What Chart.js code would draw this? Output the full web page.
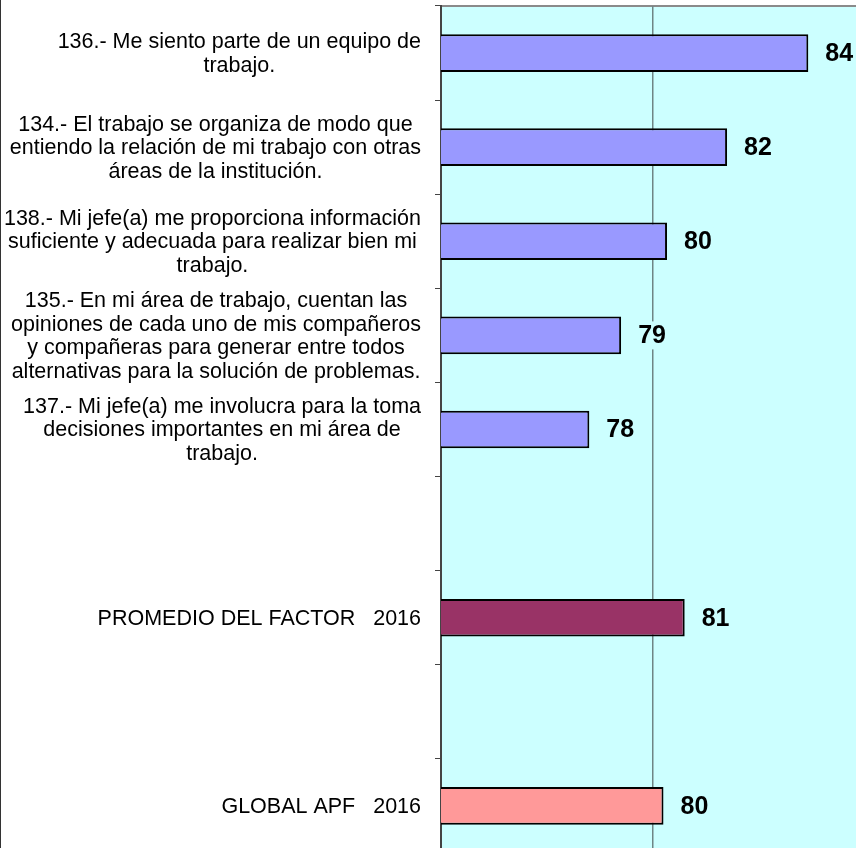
<!DOCTYPE html>
<html>
<head>
<meta charset="utf-8">
<script src="https://cdn.jsdelivr.net/npm/chart.js@4/dist/chart.umd.min.js"></script>
<style>
    body { margin: 0; overflow: hidden; background: #fff; }
</style>
</head>
<body>
<canvas id="grafica" width="856" height="853"></canvas>
<script>
// etiquetas de cada reactivo (ya partidas en lineas)
const etiquetas = [
    ['136.- Me siento parte de un equipo de', 'trabajo.'],
    ['134.- El trabajo se organiza de modo que', 'entiendo la relación de mi trabajo con otras', 'áreas de la institución.'],
    ['138.- Mi jefe(a) me proporciona información', 'suficiente y adecuada para realizar bien mi', 'trabajo.'],
    ['135.- En mi área de trabajo, cuentan las', 'opiniones de cada uno de mis compañeros', 'y compañeras para generar entre todos', 'alternativas para la solución de problemas.'],
    ['137.- Mi jefe(a) me involucra para la toma', 'decisiones importantes en mi área de', 'trabajo.'],
    [],
    ['PROMEDIO DEL FACTOR   2016'],
    [],
    ['GLOBAL APF   2016']
];
const valores = [84.4, 82.1, 80.4, 79.1, 78.2, null, 80.9, null, 80.3];
const colores = ['#9999FF', '#9999FF', '#9999FF', '#9999FF', '#9999FF', null, '#993366', null, '#FF9999'];
const ejeMin = 74;
const ejeMax = 85.75;
const guias = [80];

const fondoCyan = '#CCFFFF';

const dibujos = {
    id: 'dibujos',
    beforeDraw(chart) {
        const ctx = chart.ctx;
        const a = chart.chartArea;
        ctx.save();
        ctx.fillStyle = '#fff';
        ctx.fillRect(0, 0, chart.width, chart.height);
        ctx.fillStyle = fondoCyan;
        ctx.fillRect(a.left, a.top, a.right - a.left, a.bottom - a.top);
        // borde superior del area
        ctx.fillStyle = '#8a8a8a';
        ctx.fillRect(a.left, a.top - 1, a.right - a.left, 2);
        // borde izquierdo de la imagen
        ctx.fillStyle = '#333';
        ctx.fillRect(0, 0, 1, chart.height);
        ctx.restore();
    },
    afterDatasetsDraw(chart) {
        const ctx = chart.ctx;
        const meta = chart.getDatasetMeta(0);
        ctx.save();
        ctx.font = 'bold 25px "Liberation Sans", Arial, sans-serif';
        ctx.textAlign = 'left';
        ctx.textBaseline = 'middle';
        meta.data.forEach((bar, i) => {
            if (valores[i] == null) return;
            const txt = String(Math.round(valores[i]));
            const x = bar.x + 17;
            const w = ctx.measureText(txt).width;
            ctx.fillStyle = fondoCyan;
            ctx.fillRect(x - 2, bar.y - 14, w + 4, 28);
            ctx.fillStyle = '#000';
            ctx.fillText(txt, x, bar.y + 1);
        });
        ctx.restore();
    },
    afterDraw(chart) {
        const ctx = chart.ctx;
        const y = chart.scales.y;
        const lh = 23.5;
        const derecha = 421;
        ctx.save();
        ctx.font = '21.5px "Liberation Sans", Arial, sans-serif';
        ctx.textAlign = 'center';
        ctx.textBaseline = 'middle';
        ctx.fillStyle = '#000';
        etiquetas.forEach((lineas, i) => {
            if (!lineas.length) return;
            const yc = y.getPixelForValue(i);
            let ancho = 0;
            lineas.forEach(l => { ancho = Math.max(ancho, ctx.measureText(l).width); });
            const cx = derecha - ancho / 2;
            lineas.forEach((l, k) => {
                const ly = yc + 1 + (k - (lineas.length - 1) / 2) * lh;
                ctx.fillText(l, cx, ly);
            });
        });
        ctx.restore();
    }
};

new Chart(document.getElementById('grafica'), {
    type: 'bar',
    data: {
        labels: etiquetas.map(l => l.join(' ')),
        datasets: [{
            data: valores,
            backgroundColor: colores,
            borderColor: '#000',
            borderWidth: 2,
            borderSkipped: false,
            barPercentage: 0.4,
            categoryPercentage: 1
        }]
    },
    options: {
        indexAxis: 'y',
        responsive: false,
        animation: false,
        layout: { padding: { top: 6, left: 0, right: 0, bottom: 0 } },
        plugins: {
            legend: { display: false },
            tooltip: { enabled: false }
        },
        scales: {
            x: {
                min: ejeMin,
                max: ejeMax,
                afterBuildTicks: s => { s.ticks = guias.map(v => ({ value: v })); },
                afterFit: s => { s.height = 0; },
                ticks: { display: false },
                border: { display: false },
                grid: {
                    drawTicks: false,
                    color: '#6f8585',
                    lineWidth: 1.5
                }
            },
            y: {
                afterFit: s => { s.width = 441; },
                ticks: { display: false },
                border: { color: '#444', width: 2 },
                grid: {
                    offset: true,
                    drawOnChartArea: false,
                    tickLength: 6,
                    color: '#444',
                    lineWidth: 1
                }
            }
        }
    },
    plugins: [dibujos]
});
</script>
</body>
</html>
